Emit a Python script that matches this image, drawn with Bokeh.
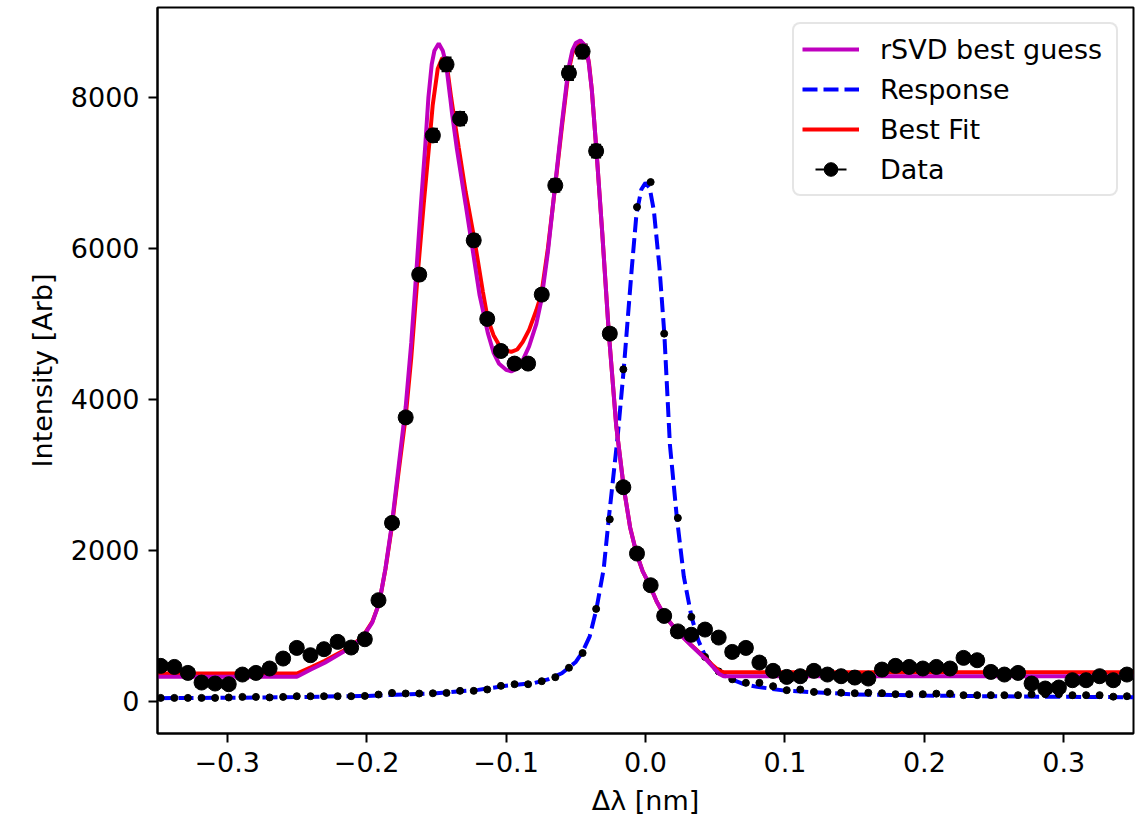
from bokeh.plotting import figure
from bokeh.models import (Range1d, FixedTicker, ColumnDataSource, Whisker, TeeHead,
                          Legend, LegendItem)
from bokeh.embed import file_html
from bokeh.resources import INLINE

# ---------------- data ----------------
wl = [-0.3477, -0.3379, -0.3282, -0.3184, -0.3087, -0.2989, -0.2891, -0.2794, -0.2696, -0.2599,
      -0.2501, -0.2403, -0.2306, -0.2208, -0.2111, -0.2013, -0.1915, -0.1818, -0.1720, -0.1623,
      -0.1525, -0.1427, -0.1330, -0.1232, -0.1135, -0.1037, -0.0939, -0.0842, -0.0744, -0.0647,
      -0.0549, -0.0451, -0.0354, -0.0256, -0.0159, -0.0061, 0.0037, 0.0134, 0.0232, 0.0329,
      0.0427, 0.0525, 0.0622, 0.0720, 0.0817, 0.0915, 0.1013, 0.1110, 0.1208, 0.1305,
      0.1403, 0.1501, 0.1598, 0.1696, 0.1793, 0.1891, 0.1989, 0.2086, 0.2184, 0.2281,
      0.2379, 0.2477, 0.2574, 0.2672, 0.2769, 0.2867, 0.2965, 0.3062, 0.3160, 0.3257,
      0.3355, 0.3453]

data_int = [468, 454, 375, 247, 234, 225, 353, 375, 433, 565,
            706, 609, 689, 786, 711, 821, 1338, 2362, 3760, 5652,
            7496, 8437, 7718, 6106, 5065, 4640, 4473, 4473, 5387, 6834,
            8322, 8609, 7289, 4870, 2835, 1956, 1536, 1130, 925, 880,
            949, 843, 653, 706, 512, 402, 322, 331, 402, 353,
            331, 313, 300, 419, 468, 454, 433, 454, 433, 574,
            543, 388, 353, 375, 234, 168, 181, 278, 278, 331,
            278, 353]

data_err = [22, 21, 19, 16, 15, 15, 19, 19, 21, 24,
            27, 25, 26, 28, 27, 29, 37, 49, 61, 75,
            87, 92, 88, 78, 71, 68, 67, 67, 73, 83,
            91, 93, 85, 70, 53, 44, 39, 34, 30, 30,
            31, 29, 26, 27, 23, 20, 18, 18, 20, 19,
            18, 18, 17, 20, 22, 21, 21, 21, 21, 24,
            23, 20, 19, 19, 15, 13, 13, 17, 17, 18,
            17, 19]

wl_err = [0.004] * 72

response_pts = [44, 44, 44, 44, 44, 49, 57, 57, 50, 57,
                66, 66, 66, 66, 66, 70, 88, 110, 102, 102,
                105, 110, 137, 137, 155, 203, 225, 225, 265, 318,
                443, 638, 1223, 2410, 4397, 6547, 6878, 4870, 2428, 1117,
                587, 395, 290, 243, 243, 199, 146, 155, 123, 123,
                112, 106, 112, 106, 93, 93, 93, 100, 100, 80,
                80, 80, 80, 80, 93, 93, 93, 80, 80, 80,
                60, 66]

resp_x = [-0.35, -0.30, -0.25, -0.20, -0.15, -0.12, -0.10, -0.08, -0.07, -0.06,
          -0.05, -0.0455, -0.04, -0.0352, -0.03, -0.0264, -0.02, -0.0156, -0.01, -0.0065,
          -0.003, 0.0, 0.003, 0.006, 0.01, 0.0135, 0.0175, 0.0225, 0.0275, 0.033,
          0.038, 0.043, 0.05, 0.06, 0.07, 0.08, 0.10, 0.15, 0.20, 0.25,
          0.30, 0.35]
resp_y = [40, 45, 55, 70, 105, 150, 205, 240, 290, 370,
          520, 640, 860, 1220, 1750, 2410, 3500, 4400, 5700, 6450,
          6780, 6870, 6800, 6500, 5750, 4870, 3400, 2430, 1650, 1117,
          800, 590, 420, 300, 230, 190, 140, 90, 75, 65,
          58, 52]

fit_x = [-0.35, -0.25, -0.24, -0.23, -0.2124, -0.2029, -0.196, -0.191, -0.1865, -0.182,
         -0.177, -0.172, -0.168, -0.1634, -0.159, -0.1562, -0.155, -0.1526, -0.149, -0.1458,
         -0.1425, -0.1394, -0.137, -0.1339, -0.129, -0.1226, -0.1166, -0.1131, -0.109, -0.105,
         -0.1, -0.0963, -0.092, -0.088, -0.0835, -0.0783, -0.0747, -0.07, -0.0647, -0.06,
         -0.0553, -0.0525, -0.05, -0.0465, -0.043, -0.0405, -0.0385, -0.0352, -0.031, -0.0264,
         -0.021, -0.0156, -0.011, -0.0065, -0.002, 0.003, 0.008, 0.0135, 0.023, 0.033,
         0.043, 0.048, 0.053, 0.056, 0.35]
fit_y = [367, 367, 450, 535, 711, 852, 1050, 1300, 1750, 2300,
         3050, 3770, 4550, 5650, 6600, 7162, 7400, 7900, 8380, 8521,
         8430, 8000, 7700, 7330, 6750, 6106, 5420, 5060, 4850, 4720,
         4650, 4627, 4660, 4760, 4920, 5180, 5390, 6000, 6834, 7600,
         8330, 8580, 8690, 8740, 8680, 8450, 8100, 7300, 6200, 4900,
         3650, 2830, 2300, 1960, 1720, 1540, 1320, 1140, 920, 740,
         570, 480, 400, 385, 385]

svd_x = [-0.35, -0.25, -0.24, -0.23, -0.2124, -0.2029, -0.196, -0.191, -0.1865, -0.182,
         -0.177, -0.172, -0.168, -0.1645, -0.161, -0.158, -0.1557, -0.1533, -0.1514, -0.1483,
         -0.1454, -0.143, -0.1401, -0.1387, -0.1353, -0.129, -0.125, -0.119, -0.1131, -0.109,
         -0.105, -0.1, -0.0963, -0.092, -0.088, -0.0835, -0.0783, -0.0747, -0.07, -0.0647,
         -0.06, -0.0553, -0.0525, -0.05, -0.0467, -0.0435, -0.041, -0.0385, -0.0352, -0.031,
         -0.0264, -0.021, -0.0156, -0.011, -0.0065, -0.002, 0.003, 0.008, 0.0135, 0.023,
         0.033, 0.043, 0.048, 0.053, 0.056, 0.35]
svd_y = [325, 325, 420, 510, 700, 845, 1040, 1300, 1760, 2330,
         3120, 3900, 4750, 5650, 6600, 7350, 8000, 8442, 8618, 8714,
         8618, 8442, 8000, 7780, 7320, 6580, 6106, 5380, 4880, 4620,
         4470, 4390, 4370, 4410, 4520, 4700, 5000, 5310, 5950, 6860,
         7650, 8380, 8620, 8720, 8755, 8690, 8500, 8100, 7300, 6200,
         4900, 3650, 2830, 2300, 1960, 1720, 1540, 1320, 1140, 920,
         735, 560, 460, 360, 330, 330]

x_ticks = [-0.3, -0.2, -0.1, 0.0, 0.1, 0.2, 0.3]
x_tick_labels = ["\u22120.3", "\u22120.2", "\u22120.1", "0.0", "0.1", "0.2", "0.3"]
y_ticks = [0, 2000, 4000, 6000, 8000]
y_tick_labels = ["0", "2000", "4000", "6000", "8000"]

# ---------------- figure ----------------
FONT = "DejaVu Sans"
FS = "27px"

p = figure(width=1140, height=819, output_backend="svg", toolbar_location=None,
           title=None,
           x_range=Range1d(-0.35, 0.35), y_range=Range1d(-428, 9191),
           min_border_left=157, min_border_right=7, min_border_top=7, min_border_bottom=86)
p.background_fill_color = "white"
p.border_fill_color = "white"
p.outline_line_color = "black"
p.outline_line_width = 2
p.outline_line_alpha = 1.0
p.xgrid.visible = False
p.ygrid.visible = False

p.xaxis.ticker = FixedTicker(ticks=x_ticks)
p.xaxis.major_label_overrides = dict(zip(x_ticks, x_tick_labels))
p.yaxis.ticker = FixedTicker(ticks=y_ticks)
p.yaxis.major_label_overrides = dict(zip(y_ticks, y_tick_labels))

for ax in (p.xaxis, p.yaxis):
    ax.axis_line_width = 2
    ax.axis_line_color = "black"
    ax.major_tick_line_width = 2
    ax.major_tick_line_color = "black"
    ax.major_tick_in = 0
    ax.major_tick_out = 9
    ax.minor_tick_line_color = None
    ax.major_label_text_font = FONT
    ax.major_label_text_font_size = FS
    ax.major_label_text_color = "black"
    ax.major_label_standoff = 9
    ax.axis_label_text_font = FONT
    ax.axis_label_text_font_size = FS
    ax.axis_label_text_font_style = "normal"
    ax.axis_label_text_color = "black"
    ax.axis_label_standoff = 10

p.xaxis.axis_label = "\u0394\u03bb [nm]"
p.yaxis.axis_label = "Intensity [Arb]"

# ---------------- glyphs ----------------
r_resp = p.line(resp_x, resp_y, line_color="#0000ff", line_width=4, line_dash="15 6")
p.scatter(wl, response_pts, size=7, color="black")
r_fit = p.line(fit_x, fit_y, line_color="#ff0000", line_width=4)
r_svd = p.line(svd_x, svd_y, line_color="#bf00bf", line_width=4)

src = ColumnDataSource(dict(
    x=wl, y=data_int,
    yu=[v + e for v, e in zip(data_int, data_err)],
    yl=[v - e for v, e in zip(data_int, data_err)],
    xu=[v + e for v, e in zip(wl, wl_err)],
    xl=[v - e for v, e in zip(wl, wl_err)],
))
p.add_layout(Whisker(source=src, base="x", upper="yu", lower="yl", dimension="height",
                     line_color="black", line_width=2,
                     upper_head=TeeHead(size=10, line_width=2, line_color="black"),
                     lower_head=TeeHead(size=10, line_width=2, line_color="black")))
p.add_layout(Whisker(source=src, base="y", upper="xu", lower="xl", dimension="width",
                     line_color="black", line_width=2,
                     upper_head=TeeHead(size=10, line_width=2, line_color="black"),
                     lower_head=TeeHead(size=10, line_width=2, line_color="black")))
r_data = p.scatter("x", "y", source=src, size=15, color="black")

# legend-only helper for the errorbar symbol (horizontal bar)
nan = float("nan")
r_hbar = p.segment(x0=[nan], y0=[nan], x1=[nan], y1=[nan], line_color="black",
                   line_width=2, line_dash="0 13 31 13")

legend = Legend(items=[
    LegendItem(label="rSVD best guess", renderers=[r_svd]),
    LegendItem(label="Response", renderers=[r_resp]),
    LegendItem(label="Best Fit", renderers=[r_fit]),
    LegendItem(label="Data", renderers=[r_hbar, r_data]),
], location="top_right")
legend.margin = 15
legend.padding = 8
legend.spacing = 6
legend.glyph_width = 57
legend.glyph_height = 34
legend.label_standoff = 21
legend.label_width = 228
legend.label_text_font = FONT
legend.label_text_font_size = FS
legend.label_text_color = "black"
legend.border_line_color = "#cccccc"
legend.border_line_width = 2
legend.border_radius = 8
legend.background_fill_alpha = 0.8
p.add_layout(legend)

open("out.html", "w").write(file_html(p, INLINE))
